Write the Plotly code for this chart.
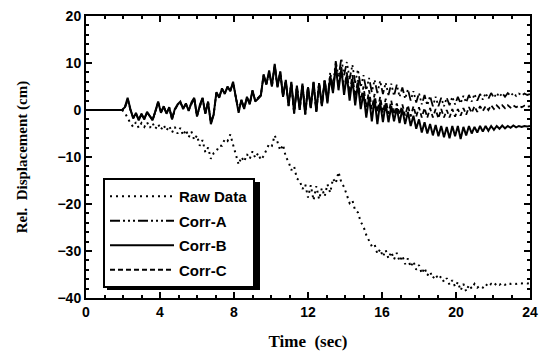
import plotly.graph_objects as go

# ---------------- data ----------------
# common sample times: 0, then 1.95 .. 24.00 every 0.15 s
time_s = [0.0] + [round(1.95 + 0.15 * i, 2) for i in range(148)]

raw_data = [0.0,
    0, -0.6, -1.8, -2.8, -3.6, -2.6, -3.8, -2.8, -3.6, -2.6,
    -3.8, -2.8, -4.0, -3.0, -4.2, -3.2, -4.4, -3.4, -4.8, -3.6,
    -5.0, -3.8, -5.4, -4.2, -5.8, -4.6, -6.4, -5.4, -7.6, -6.4,
    -9.0, -8.0, -10.4, -9.2, -8.8, -7.6, -7.6, -6.2, -6.6, -5.2,
    -7.4, -9.6, -11.6, -10.0, -11.0, -9.4, -10.4, -8.8, -10.2, -9.2,
    -10.6, -9.8, -8.6, -7.2, -7.6, -5.4, -6.8, -8.6, -7.4, -10.0,
    -11.0, -12.8, -12.0, -14.6, -15.0, -16.8, -15.8, -18.6, -16.0, -19.2,
    -16.2, -19.0, -16.6, -18.4, -15.8, -17.6, -14.6, -15.6, -13.2, -15.4,
    -16.4, -18.0, -19.8, -19.2, -21.4, -21.8, -23.8, -24.8, -26.6, -27.8,
    -29.0, -28.6, -30.6, -29.6, -31.2, -29.8, -31.6, -30.2, -31.8, -30.4,
    -32.2, -31.0, -32.8, -31.6, -33.4, -32.2, -34.0, -33.0, -34.8, -33.6,
    -35.2, -34.4, -35.8, -35.0, -36.0, -35.4, -36.6, -35.8, -37.2, -36.2,
    -37.6, -36.6, -38.4, -37.0, -38.6, -37.2, -38.0, -37.0, -37.8, -37.4,
    -37.8, -37.0, -37.6, -37.0, -37.4, -36.8, -37.2, -36.8, -37.2, -36.8,
    -37.0, -36.8, -37.0, -36.8, -36.9, -36.8, -36.9, -36.8]

corr_a = [0.0,
    0, 0.5, 2.4, 0.1, -1.7, -0.7, -2.1, -0.9, -1.9, -0.5,
    -1.3, -2.1, -0.3, 1.7, -0.5, 0.7, -0.7, 0.5, -1.9, 0.1,
    1.1, 1.7, 0.3, 1.3, -0.1, 1.5, 2.5, -1.3, 0.9, 2.5,
    -0.7, 1.7, -2.8, -0.9, 3.7, 2.7, 4.5, 3.5, 4.9, 4.1,
    5.8, 2.7, -0.4, 2.1, 0.3, 2.7, 1.3, 4.1, 1.9, 2.5,
    3.1, 7.4, 5.5, 8.2, 5.1, 9.6, 4.9, 8.1, 2.9, 6.3,
    0.9, 5.9, -0.7, 5.1, 0.1, 5.5, -0.9, 4.9, 0.5, 5.9,
    -0.3, 5.7, 0.9, 6.6, 2.0, 8.0, 5.0, 10.4, 7.0, 11.0,
    7.4, 10.2, 6.6, 9.6, 5.8, 8.6, 4.8, 7.4, 4.2, 6.8,
    3.8, 6.4, 3.6, 6.2, 3.4, 5.8, 3.2, 5.6, 3.0, 5.4,
    2.8, 4.8, 2.4, 4.4, 2.0, 4.0, 1.6, 3.6, 1.2, 3.2,
    1.0, 3.0, 0.8, 2.8, 0.8, 2.6, 0.8, 2.6, 1.0, 2.8,
    1.2, 2.8, 1.4, 3.0, 1.6, 3.2, 1.8, 3.4, 2.0, 3.4,
    2.2, 3.6, 2.4, 3.6, 2.6, 3.6, 2.8, 3.6, 2.8, 3.6,
    3.0, 3.6, 3.0, 3.5, 3.1, 3.5, 3.2, 3.4]

corr_b = [0.0,
    0, 0.6, 2.6, 0.2, -1.8, -0.6, -2.2, -0.8, -2.0, -0.4,
    -1.4, -2.2, -0.2, 1.8, -0.6, 0.8, -0.8, 0.6, -2.0, 0.2,
    1.2, 1.8, 0.2, 1.4, -0.2, 1.6, 2.6, -1.4, 1.0, 2.6,
    -0.8, 1.8, -3.0, -1.0, 3.8, 2.6, 4.6, 3.4, 5.0, 4.0,
    6.0, 2.6, -0.6, 2.2, 0.2, 2.8, 1.2, 4.2, 1.8, 2.4,
    3.0, 7.6, 5.4, 8.4, 5.0, 9.8, 4.8, 8.2, 2.8, 6.4,
    0.8, 6.0, -0.8, 5.2, 0.0, 5.6, -1.0, 4.8, 0.4, 6.0,
    -0.4, 5.6, 0.8, 6.2, 1.4, 7.0, 3.6, 9.4, 4.2, 8.8,
    3.2, 7.4, 2.0, 6.6, 1.0, 5.6, 0.2, 3.6, -1.6, 2.8,
    -2.4, 2.4, -3.0, 1.6, -2.6, 1.4, -2.6, 0.8, -2.4, 0.4,
    -2.8, 0.2, -3.0, -0.4, -3.4, -1.2, -4.0, -2.0, -4.8, -2.6,
    -5.0, -3.0, -5.4, -3.2, -5.6, -3.4, -5.8, -3.6, -6.0, -3.4,
    -5.6, -3.4, -6.2, -3.6, -5.4, -3.4, -5.0, -3.6, -4.8, -3.4,
    -4.6, -3.4, -4.4, -3.4, -4.2, -3.4, -4.0, -3.3, -3.9, -3.4,
    -3.8, -3.3, -3.7, -3.4, -3.6, -3.4, -3.5, -3.4]

corr_c = [0.0,
    0, 0.4, 2.2, 0.0, -1.6, -0.8, -2.0, -1.0, -1.8, -0.6,
    -1.2, -2.0, -0.4, 1.6, -0.4, 0.6, -0.6, 0.4, -1.8, 0.0,
    1.0, 1.6, 0.4, 1.2, 0.0, 1.4, 2.4, -1.2, 0.8, 2.4,
    -0.6, 1.6, -2.6, -0.8, 3.6, 2.8, 4.4, 3.6, 4.8, 4.2,
    5.6, 2.8, -0.2, 2.0, 0.4, 2.6, 1.4, 4.0, 2.0, 2.6,
    3.2, 7.2, 5.6, 8.0, 5.2, 9.4, 5.0, 8.0, 3.0, 6.2,
    1.0, 5.8, -0.6, 5.0, 0.2, 5.4, -0.8, 5.0, 0.6, 5.8,
    -0.2, 5.8, 1.0, 6.4, 1.8, 7.4, 4.0, 9.6, 5.0, 9.2,
    4.4, 8.0, 3.6, 7.4, 2.8, 6.4, 2.0, 5.0, 0.6, 4.2,
    0.2, 3.4, -0.4, 2.8, -0.6, 2.4, -0.8, 2.0, -1.0, 1.4,
    -1.0, 1.2, -1.2, 1.0, -1.4, 0.8, -1.4, 0.6, -1.6, 0.4,
    -1.6, 0.4, -1.6, 0.2, -1.8, 0.2, -1.6, 0.0, -1.6, 0.2,
    -1.4, 0.2, -1.2, 0.4, -1.0, 0.6, -0.6, 0.8, -0.4, 0.8,
    -0.2, 0.8, 0.0, 1.0, 0.2, 1.0, 0.4, 1.0, 0.4, 1.0,
    0.5, 1.0, 0.6, 0.9, 0.6, 0.9, 0.7, 0.8]

series_names = ["Raw Data", "Corr-A", "Corr-B", "Corr-C"]
x_ticks = [0, 4, 8, 12, 16, 20, 24]
y_ticks = [-40, -30, -20, -10, 0, 10, 20]

# ---------------- figure ----------------
styles = {
    "Raw Data": dict(dash="2px,4px", width=2),
    "Corr-A": dict(dash="10px,3px,2px,3px,2px,3px,2px,3px", width=1.8),
    "Corr-B": dict(dash="solid", width=2),
    "Corr-C": dict(dash="5px,3px", width=1.8),
}
values = {"Raw Data": raw_data, "Corr-A": corr_a, "Corr-B": corr_b, "Corr-C": corr_c}

fig = go.Figure()
for name in series_names:
    fig.add_trace(go.Scatter(
        x=time_s, y=values[name], mode="lines", name=name, legendgroup=name,
        line=dict(color="black", **styles[name]),
    ))

sans = "Liberation Sans"
serif = "Liberation Serif"

axis_common = dict(
    showline=True, linecolor="black", linewidth=2, mirror="ticks",
    ticks="inside", ticklen=6, tickwidth=1.5, tickcolor="black",
    showgrid=False, zeroline=False, automargin=False,
    ticklabeloverflow="allow",
    tickfont=dict(family=sans, size=14, color="black", weight="bold"),
)

fig.update_xaxes(
    range=[0, 24], tickvals=x_ticks,
    minor=dict(ticks="inside", ticklen=3, tickcolor="black", dtick=1, tick0=0, showgrid=False),
    title=dict(text="Time  (sec)", font=dict(family=serif, size=17, color="black", weight="bold"), standoff=16),
    **axis_common,
)
fig.update_yaxes(
    range=[-40, 20], tickvals=y_ticks,
    minor=dict(ticks="inside", ticklen=3, tickcolor="black", dtick=2, tick0=0, showgrid=False),
    title=dict(text="Rel.  Displacement (cm)", font=dict(family=serif, size=15, color="black", weight="bold"), standoff=26),
    **axis_common,
)

# plot-area pixel helpers (plot spans 444 x 282 px on the page)
TOP, BOTTOM = 16, 298

def px(xp):
    return (xp - 86) / 444

def py(yp):
    return (BOTTOM - yp) / (BOTTOM - TOP)

# legend drop shadow (drawn beneath the legend box)
fig.add_shape(type="rect", xref="paper", yref="paper",
              x0=px(107), x1=px(260), y0=py(290), y1=py(182),
              fillcolor="black", line=dict(width=0), layer="above")

# page body has an 8px margin, so the figure is shifted by 8px right/down
fig.update_layout(
    width=539, height=352,
    margin=dict(l=78, r=17, t=8, b=62),
    paper_bgcolor="white", plot_bgcolor="white",
    showlegend=True,
    legend=dict(
        x=px(103), y=py(178), xanchor="left", yanchor="top",
        bgcolor="white", bordercolor="black", borderwidth=2,
        font=dict(family=sans, size=15, color="black", weight="bold"),
        tracegroupgap=2, itemwidth=64,
    ),
)

fig.write_html("out.html")
